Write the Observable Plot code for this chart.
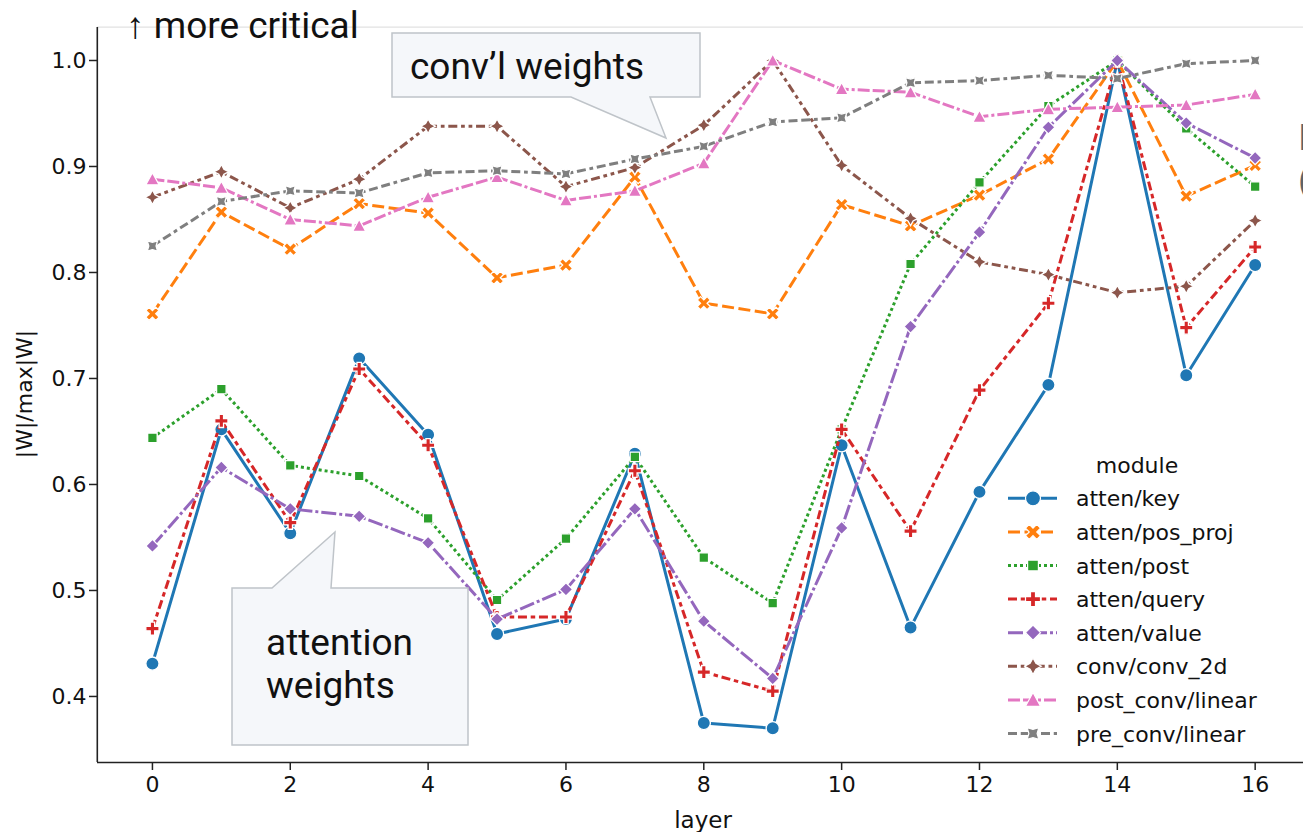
<!DOCTYPE html>
<html><head><meta charset="utf-8">
<script src="https://cdn.jsdelivr.net/npm/d3@7"></script>
<script src="https://cdn.jsdelivr.net/npm/@observablehq/plot@0.6"></script>
<style>
html,body{margin:0;padding:0;background:#fff;overflow:hidden;}
#wrap{position:relative;width:1303px;height:832px;overflow:hidden;background:#fff;}
#wrap svg{position:absolute;left:0;top:0;}
</style></head><body><div id="wrap"></div>
<script>
// ---------- data ----------
const layers = [0,1,2,3,4,5,6,7,8,9,10,11,12,13,14,15,16];
const modules = ["atten/key","atten/pos_proj","atten/post","atten/query","atten/value","conv/conv_2d","post_conv/linear","pre_conv/linear"];
const attenKey     = [0.431,0.652,0.554,0.719,0.647,0.459,0.473,0.629,0.375,0.370,0.637,0.465,0.593,0.694,1.000,0.703,0.807];
const attenPosProj = [0.761,0.857,0.822,0.865,0.856,0.795,0.807,0.890,0.771,0.761,0.864,0.844,0.873,0.907,1.000,0.872,0.901];
const attenPost    = [0.644,0.690,0.618,0.608,0.568,0.491,0.549,0.626,0.531,0.488,0.652,0.808,0.885,0.957,1.000,0.936,0.881];
const attenQuery   = [0.464,0.660,0.564,0.709,0.637,0.475,0.475,0.613,0.423,0.405,0.652,0.556,0.689,0.771,1.000,0.748,0.824];
const attenValue   = [0.542,0.616,0.577,0.570,0.545,0.473,0.501,0.577,0.471,0.417,0.559,0.749,0.838,0.937,1.000,0.941,0.908];
const convConv2d   = [0.871,0.895,0.861,0.888,0.938,0.938,0.881,0.899,0.939,1.000,0.901,0.851,0.810,0.798,0.781,0.787,0.849];
const postConvLin  = [0.888,0.880,0.850,0.844,0.871,0.890,0.868,0.877,0.903,1.000,0.973,0.970,0.947,0.954,0.956,0.958,0.968];
const preConvLin   = [0.825,0.867,0.877,0.875,0.894,0.896,0.893,0.907,0.919,0.942,0.946,0.979,0.981,0.986,0.983,0.997,1.000];
const seriesValues = [attenKey,attenPosProj,attenPost,attenQuery,attenValue,convConv2d,postConvLin,preConvLin];
const xTicks = [0,2,4,6,8,10,12,14,16];
const yTicks = [0.4,0.5,0.6,0.7,0.8,0.9,1.0];
const xLabel = "layer";
const yLabel = "|W|/max|W|";
const legendTitle = "module";

// ---------- styles ----------
const colors = ["#1f77b4","#ff7f0e","#2ca02c","#d62728","#9467bd","#8c564b","#e377c2","#7f7f7f"];
const LW = 3;
const dashUnits = [null,[4,1.5],[1,1],[3,1.25,1.5,1.25],[5,1,1,1],[3,1.25,1.25,1.25,1.25,1.25],[4,1,4,1,1,1],[3,1.25,3,1.25,1.25,1.25]];
const dashStr = d => d ? d.map(v => (v*LW).toFixed(2)).join(",") : null;

function poly(ctx, pts){ ctx.moveTo(pts[0][0],pts[0][1]); for(let i=1;i<pts.length;i++) ctx.lineTo(pts[i][0],pts[i][1]); ctx.closePath(); }
const rad = size => Math.sqrt(size/Math.PI);
const symCircle = {draw(ctx,size){const R=rad(size); ctx.moveTo(R,0); ctx.arc(0,0,R,0,2*Math.PI);}};
const symX = {draw(ctx,size){const k=rad(size)/2; poly(ctx,[[-1,-2],[0,-1],[1,-2],[2,-1],[1,0],[2,1],[1,2],[0,1],[-1,2],[-2,1],[-1,0],[-2,-1]].map(p=>[p[0]*k,p[1]*k]));}};
const symSquare = {draw(ctx,size){const h=rad(size)*0.72; poly(ctx,[[-h,-h],[h,-h],[h,h],[-h,h]]);}};
const symPlus = {draw(ctx,size){const k=rad(size)/3; poly(ctx,[[-1,-3],[1,-3],[1,-1],[3,-1],[3,1],[1,1],[1,3],[-1,3],[-1,1],[-3,1],[-3,-1],[-1,-1]].map(p=>[p[0]*k,p[1]*k]));}};
const symDiamond = {draw(ctx,size){const R=rad(size); poly(ctx,[[0,-R],[R,0],[0,R],[-R,0]]);}};
function starPts(R,inner,rot){const pts=[]; for(let i=0;i<8;i++){const a=-Math.PI/2+rot+i*Math.PI/4; const r=i%2===0?R:R*inner; pts.push([r*Math.cos(a),r*Math.sin(a)]);} return pts;}
const symStar = {draw(ctx,size){poly(ctx,starPts(rad(size)*1.1,0.5,0));}};
const symStar45 = {draw(ctx,size){poly(ctx,starPts(rad(size)*1.1,0.5,Math.PI/4));}};
const symTri = {draw(ctx,size){const R=rad(size); poly(ctx,[[0,-R],[R,R*0.85],[-R,R*0.85]]);}};
const symbols = [symCircle,symX,symSquare,symPlus,symDiamond,symStar,symTri,symStar45];

// ---------- plot ----------
const yMin = 0.3377, yMax = 1.0315;
const marks = [Plot.ruleY([yMax], {stroke:"#e2e2e2", strokeWidth:1.2})];
modules.forEach((m,i) => {
  const data = layers.map((l,j) => ({layer:l, value:seriesValues[i][j], module:m}));
  marks.push(Plot.line(data, {x:"layer", y:"value", stroke:colors[i], strokeWidth:LW,
    strokeDasharray: dashStr(dashUnits[i]), strokeLinecap:"butt", strokeLinejoin:"round"}));
  marks.push(Plot.dot(data, {x:"layer", y:"value", symbol:symbols[i], r:6.6, fill:colors[i], stroke:"white", strokeWidth:1.3}));
});
marks.push(Plot.ruleX([-0.8], {stroke:"#222", strokeWidth:1.6}));
marks.push(Plot.ruleY([yMin], {stroke:"#222", strokeWidth:1.6}));
marks.push(Plot.axisX({ticks:xTicks, tickSize:8, tickPadding:6, label:null, stroke:"#222", strokeWidth:1.5, fill:"#111", fontSize:22}));
marks.push(Plot.axisY({ticks:yTicks, tickFormat:d3.format(".1f"), tickSize:8, tickPadding:3, label:null, stroke:"#222", strokeWidth:1.5, fill:"#111", fontSize:22}));

const chart = Plot.plot({
  width:1303, height:832,
  marginLeft:97, marginRight:0, marginTop:27, marginBottom:70,
  style:{fontFamily:"DejaVu Sans", fontSize:"22px", background:"white", overflow:"hidden"},
  x:{type:"linear", domain:[-0.8,16.8], range:[96.8,1309.8]},
  y:{type:"linear", domain:[yMin,yMax], range:[762,26.6]},
  marks
});
document.getElementById("wrap").appendChild(chart);

// ---------- annotations & legend overlay ----------
const ov = d3.select("#wrap").append("svg").attr("width",1303).attr("height",832)
  .style("pointer-events","none");
const calloutFill = "#f5f7fa", calloutStroke = "#bfc4c9";
ov.append("path").attr("d","M392,33 H700 V97 H650 L666,138 L571,97 H392 Z")
  .attr("fill",calloutFill).attr("stroke",calloutStroke).attr("stroke-width",1.5);
ov.append("text").attr("x",410).attr("y",79).attr("font-family","Roboto").attr("font-size",37).attr("fill","#111").text("conv’l weights");
ov.append("path").attr("d","M232,588 H272 L335,532 L331,588 H468 V745 H232 Z")
  .attr("fill",calloutFill).attr("stroke",calloutStroke).attr("stroke-width",1.5);
ov.append("text").attr("x",266).attr("y",655).attr("font-family","Roboto").attr("font-size",37).attr("fill","#111").text("attention");
ov.append("text").attr("x",266).attr("y",698).attr("font-family","Roboto").attr("font-size",37).attr("fill","#111").text("weights");
ov.append("text").attr("x",126).attr("y",38).attr("font-family","Roboto").attr("font-size",37).attr("fill","#111").text("↑ more critical");
ov.append("text").attr("x",1298).attr("y",150).attr("font-family","Roboto").attr("font-size",37).attr("fill","#5f6368").text("I");
ov.append("text").attr("x",1298).attr("y",193).attr("font-family","Roboto").attr("font-size",37).attr("fill","#5f6368").text("(");

// axis titles
ov.append("text").attr("x",703).attr("y",828).attr("text-anchor","middle").attr("font-family","DejaVu Sans").attr("font-size",23).attr("fill","#111").text(xLabel);
ov.append("text").attr("transform","translate(24,394) rotate(-90)").attr("text-anchor","middle").attr("dominant-baseline","central")
  .attr("font-family","DejaVu Sans").attr("font-size",22).attr("fill","#111").text(yLabel);

// legend
ov.append("text").attr("x",1137).attr("y",473).attr("text-anchor","middle").attr("font-family","DejaVu Sans").attr("font-size",22).attr("fill","#111").text(legendTitle);
modules.forEach((m,i) => {
  const cy = 498.3 + i*33.6;
  ov.append("line").attr("x1",1008).attr("x2",1057).attr("y1",cy).attr("y2",cy)
    .attr("stroke",colors[i]).attr("stroke-width",LW).attr("stroke-dasharray",dashStr(dashUnits[i])).attr("stroke-linecap","butt");
  ov.append("path").attr("transform",`translate(1033,${cy})`).attr("d", d3.symbol(symbols[i], Math.PI*7.5*7.5)())
    .attr("fill",colors[i]).attr("stroke","white").attr("stroke-width",1.2);
  ov.append("text").attr("x",1076).attr("y",cy+8).attr("font-family","DejaVu Sans").attr("font-size",22).attr("fill","#111").text(m);
});
</script></body></html>
